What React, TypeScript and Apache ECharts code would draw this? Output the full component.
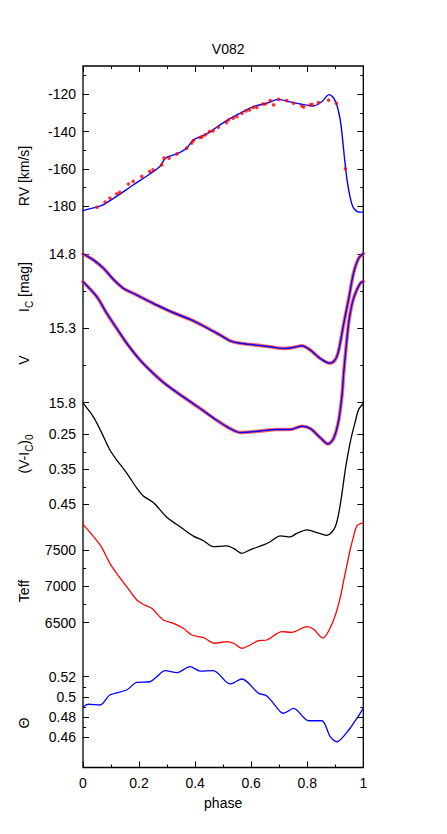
import React, { useEffect, useRef } from "react";
import * as echarts from "echarts";

const FONT = "'Liberation Sans', Arial, Helvetica, sans-serif";

// ---- data (phase, value) ----
const rvObs: number[][] = [
  [0.05, -180.7], [0.079, -177.9], [0.096, -175.7], [0.12, -173.4], [0.131, -172.7],
  [0.162, -168.2], [0.179, -166.8], [0.21, -164.1], [0.238, -161.4], [0.25, -160.5],
  [0.281, -157.9], [0.289, -154.3], [0.307, -154.3], [0.335, -152], [0.37, -148.9],
  [0.388, -146.2], [0.394, -144.8], [0.418, -143.2], [0.424, -142.9], [0.436, -141.8],
  [0.451, -140], [0.464, -139.7], [0.483, -137.7], [0.512, -135.2], [0.519, -133.8],
  [0.536, -132.9], [0.549, -132], [0.567, -130.2], [0.582, -128.9], [0.594, -128.4],
  [0.608, -127], [0.62, -127], [0.642, -125.2], [0.65, -125.2], [0.668, -123.4],
  [0.68, -125.7], [0.698, -122.7], [0.727, -123.4], [0.751, -124.8], [0.781, -126.3],
  [0.787, -126.8], [0.811, -125.7], [0.817, -125.4], [0.84, -124.5], [0.876, -123.1],
  [0.904, -124.8], [0.936, -160],
];

const rvFit: number[][] = [
  [0, -182.5], [0.05, -180.5], [0.073, -179.3], [0.12, -174.8], [0.18, -168.6],
  [0.239, -162.7], [0.275, -158.6], [0.295, -154.2], [0.335, -152], [0.37, -148.9],
  [0.394, -144.5], [0.442, -141.3], [0.477, -137.7], [0.512, -134.1], [0.56, -130.2],
  [0.608, -126.6], [0.656, -124.8], [0.698, -122.7], [0.739, -124.1], [0.775, -125.2],
  [0.822, -126.3], [0.852, -124], [0.878, -120.2], [0.894, -122], [0.906, -126],
  [0.912, -129.5], [0.918, -134], [0.924, -141], [0.932, -153], [0.942, -166],
  [0.954, -176], [0.965, -181], [0.983, -183.2], [1.0, -183.3],
];

const icFit: number[][] = [
  [0, 14.8], [0.037, 14.84], [0.073, 14.896], [0.108, 14.97], [0.144, 15.031],
  [0.18, 15.065], [0.215, 15.098], [0.263, 15.143], [0.323, 15.195], [0.382, 15.24],
  [0.442, 15.296], [0.489, 15.345], [0.525, 15.384], [0.56, 15.4], [0.62, 15.413],
  [0.668, 15.424], [0.715, 15.435], [0.751, 15.428], [0.781, 15.417], [0.811, 15.446],
  [0.846, 15.502], [0.88, 15.534], [0.9, 15.51], [0.912, 15.45], [0.93, 15.27],
  [0.948, 15.1], [0.965, 14.93], [0.983, 14.83], [1.0, 14.797],
];

const vFit: number[][] = [
  [0, 14.987], [0.049, 15.087], [0.085, 15.2], [0.12, 15.3], [0.156, 15.4],
  [0.204, 15.514], [0.251, 15.603], [0.299, 15.682], [0.358, 15.761], [0.418, 15.839],
  [0.477, 15.918], [0.525, 15.974], [0.56, 16.0], [0.632, 15.99], [0.692, 15.98],
  [0.739, 15.98], [0.781, 15.958], [0.811, 15.974], [0.846, 16.034], [0.874, 16.077],
  [0.894, 16.04], [0.912, 15.92], [0.924, 15.75], [0.93, 15.6], [0.94, 15.4],
  [0.948, 15.26], [0.957, 15.16], [0.965, 15.1], [0.977, 15.04], [0.99, 14.995], [1.0, 14.985],
];

const viFit: number[][] = [
  [0, 0.161], [0.037, 0.2], [0.065, 0.243], [0.096, 0.295], [0.12, 0.323],
  [0.156, 0.361], [0.192, 0.404], [0.215, 0.426], [0.251, 0.445], [0.299, 0.487],
  [0.346, 0.514], [0.394, 0.541], [0.43, 0.554], [0.465, 0.571], [0.49, 0.57],
  [0.513, 0.569], [0.537, 0.576], [0.567, 0.59], [0.596, 0.58], [0.644, 0.566],
  [0.668, 0.557], [0.704, 0.54], [0.739, 0.543], [0.763, 0.533], [0.799, 0.523],
  [0.835, 0.531], [0.87, 0.539], [0.9, 0.514], [0.918, 0.45], [0.936, 0.35],
  [0.954, 0.27], [0.971, 0.215], [0.983, 0.18], [1.0, 0.162],
];

const teffFit: number[][] = [
  [0, 7853], [0.061, 7569], [0.096, 7317], [0.12, 7179], [0.156, 6995],
  [0.192, 6812], [0.215, 6753], [0.245, 6698], [0.287, 6537], [0.323, 6492],
  [0.358, 6423], [0.388, 6331], [0.43, 6294], [0.471, 6217], [0.513, 6239],
  [0.537, 6217], [0.567, 6148], [0.596, 6193], [0.626, 6252], [0.656, 6262],
  [0.71, 6376], [0.745, 6368], [0.799, 6445], [0.823, 6409], [0.855, 6290],
  [0.894, 6537], [0.918, 6850], [0.93, 7080], [0.942, 7300], [0.954, 7520],
  [0.965, 7680], [0.977, 7830], [1.0, 7876],
];

const thetaFit: number[][] = [
  [0, 0.4903], [0.019, 0.4927], [0.061, 0.492], [0.096, 0.5019], [0.156, 0.5068],
  [0.192, 0.5144], [0.239, 0.515], [0.263, 0.52], [0.293, 0.526], [0.335, 0.524],
  [0.382, 0.5299], [0.418, 0.5256], [0.465, 0.526], [0.525, 0.5128], [0.567, 0.5177],
  [0.626, 0.5036], [0.656, 0.5009], [0.704, 0.4853], [0.715, 0.4838], [0.751, 0.4887],
  [0.805, 0.4764], [0.852, 0.4764], [0.882, 0.4606], [0.906, 0.4556], [0.948, 0.4672],
  [0.977, 0.4788], [1.0, 0.4887],
];

// ---- tick values ----
const rvMajor = [-180, -160, -140, -120];
const rvMinor = [-170, -150, -130, -110];
const magMajor = [14.8, 15.3, 15.8];
const magMinor = [15.05, 15.55];
const viMajor = [0.25, 0.35, 0.45];
const viMinor = [0.3, 0.4];
const teffMajor = [6500, 7000, 7500];
const teffMinor = [6750, 7250];
const thetaMajor = [0.46, 0.48, 0.5, 0.52];
const thetaMinor = [0.47, 0.49, 0.51];

// ---- layout ----
const FL = 83, FR = 363.3, FT = 66, FB = 767.5;
const W = 447, H = 834;

type Panel = { cal: number[]; lo: number; hi: number; major: number[]; minor: number[] };
const panels: Panel[] = [
  { cal: [-120, 94.3, -180, 206], lo: -190, hi: -105, major: rvMajor, minor: rvMinor },
  { cal: [14.8, 254, 15.8, 402.7], lo: 14.7, hi: 16.15, major: magMajor, minor: magMinor },
  { cal: [0.25, 434.3, 0.45, 504.3], lo: 0.1, hi: 0.65, major: viMajor, minor: viMinor },
  { cal: [7500, 550, 6500, 622.7], lo: 6000, hi: 8000, major: teffMajor, minor: teffMinor },
  { cal: [0.52, 676.7, 0.46, 737.3], lo: 0.44, hi: 0.54, major: thetaMajor, minor: thetaMinor },
];

function buildOption() {
  const grids: any[] = [
    {
      left: FL, top: FT, width: FR - FL, height: FB - FT, show: true,
      borderColor: "#000", borderWidth: 1.3, backgroundColor: "transparent",
    },
  ];
  const xAxes: any[] = [
    {
      type: "value", gridIndex: 0, position: "bottom", min: 0, max: 1, interval: 0.2,
      axisLine: { show: false }, splitLine: { show: false },
      axisTick: { show: true, inside: true, length: 6, lineStyle: { color: "#000" } },
      minorTick: { show: true, splitNumber: 2, length: 3, lineStyle: { color: "#000" } },
      axisLabel: { show: true, fontSize: 14, color: "#000", margin: 8, fontFamily: FONT },
    },
    {
      type: "value", gridIndex: 0, position: "top", min: 0, max: 1, interval: 0.2,
      axisLine: { show: false }, splitLine: { show: false },
      axisTick: { show: true, inside: true, length: 6, lineStyle: { color: "#000" } },
      minorTick: { show: true, splitNumber: 2, length: 3, lineStyle: { color: "#000" } },
      axisLabel: { show: false },
    },
  ];
  const yAxes: any[] = [{ type: "value", gridIndex: 0, show: false, min: 0, max: 1 }];

  panels.forEach((p, i) => {
    const [v1, p1, v2, p2] = p.cal;
    const k = (p2 - p1) / (v2 - v1);
    const pLo = p1 + (p.lo - v1) * k;
    const pHi = p1 + (p.hi - v1) * k;
    const gi = i + 1;
    grids.push({ left: FL, top: Math.min(pLo, pHi), width: FR - FL, height: Math.abs(pHi - pLo), show: false });
    xAxes.push({ type: "value", gridIndex: gi, min: 0, max: 1, show: false });
    const inv = k > 0;
    const mk = (pos: string, vals: number[], len: number, labels: boolean) => ({
      type: "value", gridIndex: gi, position: pos, min: p.lo, max: p.hi, inverse: inv,
      axisLine: { show: false }, splitLine: { show: false },
      axisTick: { show: true, inside: true, length: len, customValues: vals, lineStyle: { color: "#000", width: 1 } },
      axisLabel: labels
        ? {
            show: true, customValues: vals, fontSize: 14, color: "#000", margin: 7, fontFamily: FONT,
            formatter: (v: number) => String(v),
          }
        : { show: false },
    });
    yAxes.push(mk("left", p.major, 6, true));
    yAxes.push(mk("left", p.minor, 3, false));
    yAxes.push(mk("right", p.major, 6, false));
    yAxes.push(mk("right", p.minor, 3, false));
  });

  const ax = (i: number) => ({ xAxisIndex: i + 2, yAxisIndex: 1 + 4 * i });
  const line = (i: number, data: number[][], color: string, width: number, z = 2, opacity = 1) => ({
    type: "line", ...ax(i), data, showSymbol: false, smooth: 0.3, z,
    lineStyle: { color, width, opacity, cap: "round", join: "round" },
    itemStyle: { color },
  });

  const series: any[] = [
    line(0, rvFit, "#0000ff", 1.4, 2),
    { type: "scatter", ...ax(0), data: rvObs, symbol: "circle", symbolSize: 3.6, itemStyle: { color: "#ff0000" }, z: 3 },
    line(1, icFit, "#ff3030", 3.6, 1, 0.75),
    line(1, icFit, "#0000ff", 1.4, 2),
    line(1, vFit, "#ff3030", 3.6, 1, 0.75),
    line(1, vFit, "#0000ff", 1.4, 2),
    line(2, viFit, "#000000", 1.3, 2),
    line(3, teffFit, "#ff0000", 1.3, 2),
    line(4, thetaFit, "#0000ff", 1.3, 2),
  ];

  const vtext = (x: number, y: number, text: string) => ({
    type: "text", x, y, rotation: Math.PI / 2,
    style: {
      text, fill: "#000", fontSize: 14, fontFamily: FONT, align: "center", verticalAlign: "middle",
      lineHeight: 20,
      rich: {
        sub: { fontSize: 10, lineHeight: 10, verticalAlign: "bottom", fontFamily: FONT, fill: "#000" },
      },
    },
  });

  const graphic: any[] = [
    vtext(24, 176, "RV [km/s]"),
    vtext(24, 287, "I{sub|C} [mag]"),
    vtext(24, 360, "V"),
    vtext(24, 454, "(V-I{sub|C}){sub|0}"),
    vtext(24, 591, "Teff"),
    vtext(24, 723, "Θ"),
    {
      type: "text", x: (FL + FR) / 2, y: 803,
      style: { text: "phase", fill: "#000", fontSize: 14, fontFamily: FONT, align: "center", verticalAlign: "middle" },
    },
  ];

  return {
    animation: false,
    backgroundColor: "#fff",
    textStyle: { fontFamily: FONT },
    title: {
      text: "V082", left: (FL + FR) / 2, top: 37, textAlign: "center",
      textStyle: { fontSize: 14, fontWeight: "normal", color: "#000", fontFamily: FONT },
    },
    grid: grids,
    xAxis: xAxes,
    yAxis: yAxes,
    series,
    graphic,
  };
}

export default function App() {
  const ref = useRef<HTMLDivElement>(null);
  useEffect(() => {
    if (!ref.current) return;
    const chart = echarts.init(ref.current, null, { renderer: "svg" });
    chart.setOption(buildOption() as any);
    return () => chart.dispose();
  }, []);
  return (
    <div
      ref={ref}
      style={{ position: "fixed", left: 0, top: 0, width: W, height: H, background: "#fff" }}
    />
  );
}
